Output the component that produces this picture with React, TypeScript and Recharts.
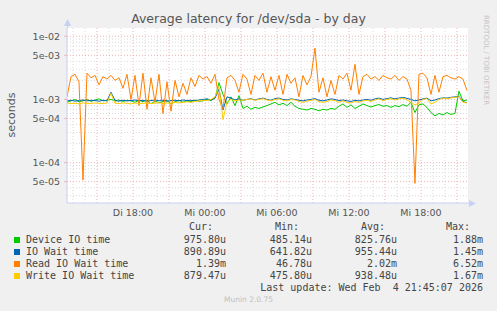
import { LineChart, Line, XAxis, YAxis, ReferenceLine } from 'recharts'

// 20-minute samples, hours counted from Di 00:00 (values in milliseconds)
const startHour = 12.5
const stepHours = 1 / 3

const deviceIo = [
  0.9, 0.95, 1.0, 0.92, 0.95, 1.0, 0.93, 0.98, 1.02, 0.95,
  0.97, 1.0, 0.95, 0.98, 0.93, 0.97, 0.95, 0.9, 0.97, 0.92,
  0.98, 0.85, 0.95, 0.88, 0.93, 0.96, 0.85, 0.92, 0.97, 0.9,
  0.95, 0.92, 0.98, 0.94, 0.95, 1.0, 0.96, 1.05, 1.85, 1.2,
  0.85, 1.1, 0.8, 1.15, 0.72, 0.78, 0.7, 0.75, 0.72, 0.76,
  0.8, 0.85, 0.9, 0.82, 0.87, 0.8, 0.9, 0.78, 0.72, 0.7,
  0.68, 0.72, 0.7, 0.66, 0.7, 0.68, 0.72, 0.7, 0.78, 0.85,
  0.75, 0.82, 0.72, 0.78, 0.85, 0.8, 0.76, 0.8, 0.83, 0.78,
  0.8, 0.75, 0.8, 0.77, 0.83, 0.78, 0.9, 0.62, 0.82, 0.85,
  0.75, 0.62, 0.55, 0.6, 0.57, 0.62, 0.58, 0.6, 1.35, 0.95,
  0.98,
]

const ioWait = [
  0.95, 0.97, 0.94, 0.96, 0.98, 0.95, 0.97, 0.96, 0.94, 0.97,
  0.95, 1.3, 0.96, 0.94, 0.97, 0.95, 0.96, 0.98, 0.95, 0.97,
  0.94, 0.96, 0.98, 0.95, 0.97, 0.94, 0.96, 0.97, 0.95, 0.98,
  0.96, 0.97, 0.95, 0.98, 1.0, 1.02, 0.98, 1.05, 1.45, 0.68,
  1.1, 1.05, 0.98, 1.02, 0.97, 1.0, 1.03, 0.98, 1.02, 1.05,
  1.0, 0.97, 1.03, 1.05, 1.0, 0.98, 1.02, 1.0, 0.97, 0.95,
  0.98, 1.0, 1.03, 0.97, 0.95, 0.98, 1.02, 1.0, 0.96, 0.98,
  0.95, 0.93, 0.97, 0.95, 0.98, 1.0, 0.97, 1.02, 1.05, 1.0,
  1.03, 1.06, 1.02, 1.05, 1.08, 1.04, 1.0, 0.95, 0.98, 1.02,
  1.05, 0.95, 0.98, 1.03, 1.06, 1.05, 1.08, 1.1, 1.12, 0.92,
  0.89,
]

const readWait = [
  1.1, 2.3, 2.5, 1.9, 0.053, 2.6, 2.2, 2.4, 1.7, 2.3,
  2.1, 2.4, 2.0, 2.2, 1.5, 2.5, 1.0, 2.4, 0.8, 2.6,
  0.7, 2.2, 0.9, 2.5, 0.6, 1.9, 0.65, 2.0, 1.1, 1.8,
  1.2, 2.2, 1.6, 2.4, 2.1, 2.3, 1.8, 2.5, 1.0, 0.7,
  2.2, 2.4, 2.0, 1.3, 2.5, 2.1, 1.2, 2.4, 2.0, 2.6,
  1.3, 2.3, 1.4, 2.4, 1.2, 2.5, 1.8, 2.2, 1.1, 2.4,
  1.7, 2.3, 6.5, 1.3, 2.2, 1.1, 2.0, 1.2, 2.4, 2.1,
  2.6, 1.4, 3.6, 1.2, 2.3, 2.5, 2.1, 2.3, 2.0, 2.4,
  2.2, 2.1, 2.4, 2.0, 2.3, 2.1, 1.4, 0.047, 2.5, 2.6,
  2.2, 1.2, 2.4, 1.3, 2.3, 2.4, 2.2, 2.1, 2.3, 2.1,
  1.39,
]

const writeWait = [
  0.88, 0.86, 0.87, 0.85, 0.88, 0.87, 0.86, 0.88, 0.87, 0.86,
  0.88, 1.25, 0.87, 0.86, 0.88, 0.87, 0.85, 0.88, 0.86, 0.87,
  0.88, 0.86, 0.87, 0.89, 0.86, 0.88, 0.87, 0.9, 0.88, 0.9,
  0.92, 0.9, 0.93, 0.95, 0.97, 0.96, 1.0, 1.1, 1.6, 0.48,
  0.9, 1.0, 0.95, 0.98, 0.97, 1.0, 1.02, 0.97, 1.0, 1.03,
  0.98, 0.95, 1.0, 1.02, 0.97, 0.95, 1.0, 0.98, 0.93, 0.9,
  0.94, 0.97, 1.0, 0.92, 0.9, 0.93, 0.98, 0.96, 0.9, 0.95,
  0.9, 0.88, 0.93, 0.9, 0.95, 0.97, 0.93, 0.98, 1.02, 0.96,
  1.0, 1.03, 0.98, 1.02, 1.05, 0.98, 0.9, 0.82, 0.88, 1.0,
  1.03, 0.85, 0.9, 1.0, 1.05, 1.02, 1.06, 1.08, 1.1, 0.9,
  0.88,
]

const seriesNames = ['Device IO time', 'IO Wait time', 'Read IO Wait time', 'Write IO Wait time']
const seriesColors = ['#00cc00', '#0066b3', '#ff8000', '#ffcc00']
const curValues = ['975.80u', '890.89u', '1.39m', '879.47u']
const minValues = ['485.14u', '641.82u', '46.78u', '475.80u']
const avgValues = ['825.76u', '955.44u', '2.02m', '938.48u']
const maxValues = ['1.88m', '1.45m', '6.52m', '1.67m']

const xTicks = [18, 24, 30, 36, 42]
const xTickLabels = ['Di 18:00', 'Mi 00:00', 'Mi 06:00', 'Mi 12:00', 'Mi 18:00']
const yTicks = [5e-5, 1e-4, 5e-4, 1e-3, 5e-3, 1e-2]

const xDomain: [number, number] = [12.5, 45.92]
const yDomain: [number, number] = [2.3e-5, 1.35e-2]

const data = deviceIo.map((v, i) => ({
  t: startHour + i * stepHours,
  device: v / 1000,
  wait: ioWait[i] / 1000,
  read: readWait[i] / 1000,
  write: writeWait[i] / 1000,
}))

// log grid: 1..9 x 10^n inside the domain
const yGrid: number[] = []
for (let e = -5; e <= -2; e++) {
  for (let m = 1; m <= 9; m++) {
    const v = m * Math.pow(10, e)
    if (v >= yDomain[0] && v <= yDomain[1]) yGrid.push(v)
  }
}
const xGrid: number[] = []
for (let h = 13; h <= 45; h++) xGrid.push(h)

const majorColor = '#eeb4b4'
const minorColor = '#dadada'
const axisColor = '#c8d0f4'
const textColor = '#555'

const fmtExp = (v: number) => {
  const [m, e] = v.toExponential(0).split('e')
  const n = Math.abs(parseInt(e, 10))
  return `${m}e-${n < 10 ? '0' + n : n}`
}

const mono = { fontFamily: '"DejaVu Sans Mono", monospace', fontSize: 10, color: '#444', whiteSpace: 'pre' as const }

const App = () => {
  const keys = ['device', 'wait', 'read', 'write']
  const rowTops = [234, 246, 258, 270]
  return (
    <div style={{ position: 'absolute', left: 0, top: 0, width: 497, height: 311, background: '#f0f0f0', fontFamily: '"DejaVu Sans", sans-serif', overflow: 'hidden' }}>
      <div style={{ position: 'absolute', left: 67, top: 28, width: 401, height: 175, background: '#fff' }} />
      <div style={{ position: 'absolute', left: 0, top: 0 }}>
        <LineChart width={497} height={311} data={data} margin={{ top: 28, right: 29, bottom: 78, left: 0 }}>
          {xGrid.map((h) => (
            <ReferenceLine key={'x' + h} x={h} stroke={h % 3 === 0 ? majorColor : minorColor} strokeDasharray="1 2" />
          ))}
          {yGrid.map((v) => {
            const m = Math.round(v / Math.pow(10, Math.floor(Math.log10(v) + 1e-9)))
            return <ReferenceLine key={'y' + v} y={v} stroke={m === 1 || m === 5 ? majorColor : minorColor} strokeDasharray="1 2" />
          })}
          <XAxis
            dataKey="t"
            type="number"
            domain={xDomain}
            ticks={xTicks}
            tickFormatter={(v: number) => xTickLabels[xTicks.indexOf(v)] ?? ''}
            tick={{ fill: textColor, fontSize: 9.5 }}
            tickSize={4}
            tickMargin={2}
            tickLine={false}
            axisLine={{ stroke: axisColor }}
            height={30}
            allowDataOverflow
          />
          <YAxis
            scale="log"
            domain={yDomain}
            ticks={yTicks}
            tickFormatter={fmtExp}
            tick={{ fill: textColor, fontSize: 9.5 }}
            tickSize={3}
            tickMargin={4}
            tickLine={{ stroke: majorColor }}
            axisLine={{ stroke: axisColor }}
            width={67}
            allowDataOverflow
          />
          <Line type="linear" dataKey="device" stroke={seriesColors[0]} strokeWidth={1} dot={false} isAnimationActive={false} />
          <Line type="linear" dataKey="wait" stroke={seriesColors[1]} strokeWidth={1} dot={false} isAnimationActive={false} />
          <Line type="linear" dataKey="read" stroke={seriesColors[2]} strokeWidth={1} dot={false} isAnimationActive={false} />
          <Line type="linear" dataKey="write" stroke={seriesColors[3]} strokeWidth={1} dot={false} isAnimationActive={false} />
        </LineChart>
      </div>

      {/* axis arrows */}
      <svg width={497} height={311} style={{ position: 'absolute', left: 0, top: 0, pointerEvents: 'none' }}>
        <line x1={67.5} y1={28} x2={67.5} y2={24} stroke={axisColor} />
        <polygon points="64,26 71,26 67.5,19" fill={axisColor} />
        <line x1={468} y1={203.5} x2={470} y2={203.5} stroke={axisColor} />
        <polygon points="469,200 469,207 476,203.5" fill={axisColor} />
        <text x={11} y={115} transform="rotate(-90 11 115)" textAnchor="middle" dominantBaseline="central" fontSize={11} fill={textColor}>
          seconds
        </text>
        <text x={486} y={15} transform="rotate(90 486 15)" textAnchor="start" dominantBaseline="central" fontSize={7} fill="#c4c4c4">
          RRDTOOL / TOBI OETIKER
        </text>
      </svg>

      <div style={{ position: 'absolute', left: 0, width: 497, top: 11, textAlign: 'center', fontSize: 12.5, color: textColor }}>
        Average latency for /dev/sda - by day
      </div>

      {/* legend */}
      <div style={{ ...mono, position: 'absolute', top: 221, left: 0, width: 213, textAlign: 'right' }}>Cur:</div>
      <div style={{ ...mono, position: 'absolute', top: 221, left: 0, width: 299, textAlign: 'right' }}>Min:</div>
      <div style={{ ...mono, position: 'absolute', top: 221, left: 0, width: 385, textAlign: 'right' }}>Avg:</div>
      <div style={{ ...mono, position: 'absolute', top: 221, left: 0, width: 470, textAlign: 'right' }}>Max:</div>
      {seriesNames.map((name, i) => (
        <div key={keys[i]}>
          <div style={{ position: 'absolute', left: 14, top: rowTops[i] + 3, width: 6, height: 6, background: seriesColors[i] }} />
          <div style={{ ...mono, position: 'absolute', left: 26, top: rowTops[i] }}>{name}</div>
          <div style={{ ...mono, position: 'absolute', left: 0, width: 226, top: rowTops[i], textAlign: 'right' }}>{curValues[i]}</div>
          <div style={{ ...mono, position: 'absolute', left: 0, width: 312, top: rowTops[i], textAlign: 'right' }}>{minValues[i]}</div>
          <div style={{ ...mono, position: 'absolute', left: 0, width: 397, top: rowTops[i], textAlign: 'right' }}>{avgValues[i]}</div>
          <div style={{ ...mono, position: 'absolute', left: 0, width: 483, top: rowTops[i], textAlign: 'right' }}>{maxValues[i]}</div>
        </div>
      ))}
      <div style={{ ...mono, position: 'absolute', left: 0, width: 483, top: 282, textAlign: 'right' }}>Last update: Wed Feb  4 21:45:07 2026</div>
      <div style={{ position: 'absolute', left: 0, width: 497, top: 295, textAlign: 'center', fontSize: 7.5, color: '#c0c0c0' }}>Munin 2.0.75</div>
    </div>
  )
}

export default App
